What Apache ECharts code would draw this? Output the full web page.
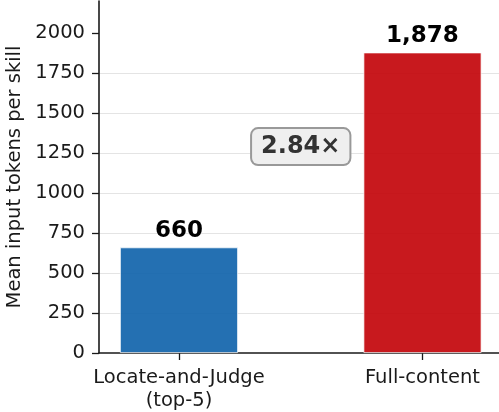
<!DOCTYPE html>
<html>
<head>
<meta charset="utf-8">
<script src="https://cdn.jsdelivr.net/npm/echarts@6/dist/echarts.min.js"></script>
<style>
  html, body { margin: 0; padding: 0; background: #fff; }
  #chart { width: 499px; height: 412px; }
</style>
</head>
<body>
<div id="chart"></div>
<script>
// data
const categories = ['Locate-and-Judge\n(top-5)', 'Full-content'];
const tokens = [660, 1878];
const barColors = ['#0c60aa', '#c20005'];
const ratioText = '2.84×';
const ratioPos = [0.5, 1290];
const yTicks = [0, 250, 500, 750, 1000, 1250, 1500, 1750, 2000];

const FONT = 'DejaVu Sans';
const INK = '#1a1a1a';
const FS = 19.5;

let chart = echarts.init(document.getElementById('chart'));

let barData = tokens.map((v, i) => ({
  value: [i, v],
  itemStyle: { color: barColors[i] }
}));

chart.setOption({
  animation: false,
  textStyle: { fontFamily: FONT },
  grid: { left: 99, right: 0, top: 1, bottom: 59, outerBoundsMode: 'none', containLabel: false },
  xAxis: {
    type: 'value',
    min: -0.3285,
    max: 1.3142,
    splitLine: { show: false },
    axisLine: { show: true, onZero: false, lineStyle: { color: INK, width: 1.6 } },
    axisTick: {
      show: true,
      customValues: [0, 1],
      length: 7,
      lineStyle: { color: INK, width: 1.3 }
    },
    axisLabel: {
      customValues: [0, 1],
      formatter: (v) => categories[Math.round(v)],
      fontSize: FS,
      lineHeight: 23,
      color: INK,
      margin: 13,
      fontFamily: FONT
    }
  },
  yAxis: {
    type: 'value',
    min: 0,
    max: 2200,
    interval: 250,
    name: 'Mean input tokens per skill',
    nameLocation: 'middle',
    nameGap: 70,
    nameTextStyle: { fontSize: FS, color: INK, fontFamily: FONT },
    axisLine: { show: true, onZero: false, lineStyle: { color: INK, width: 1.6 } },
    axisTick: {
      show: true,
      customValues: yTicks,
      length: 7,
      lineStyle: { color: INK, width: 1.3 }
    },
    axisLabel: {
      customValues: yTicks,
      formatter: (v) => String(v),
      fontSize: FS,
      color: INK,
      margin: 14,
      fontFamily: FONT
    },
    splitLine: {
      show: true,
      showMinLine: false,
      showMaxLine: false,
      lineStyle: { color: '#e4e4e4', width: 1 }
    }
  },
  series: [
    {
      type: 'bar',
      data: barData,
      barWidth: 118,
      itemStyle: { opacity: 0.9, borderColor: '#ffffff', borderWidth: 0.8 },
      label: {
        show: true,
        position: 'top',
        distance: 5,
        opacity: 1,
        fontSize: 23,
        fontWeight: 'bold',
        color: '#000',
        fontFamily: FONT,
        formatter: (p) => p.value[1].toLocaleString('en-US')
      }
    },
    {
      type: 'scatter',
      data: [ratioPos],
      symbolSize: 1,
      itemStyle: { color: 'rgba(0,0,0,0)', opacity: 1 },
      z: 5,
      label: {
        show: true,
        position: 'inside',
        opacity: 1,
        formatter: ratioText,
        fontSize: 24,
        fontWeight: 'bold',
        color: '#333',
        fontFamily: FONT,
        backgroundColor: '#efefef',
        borderColor: '#999',
        borderWidth: 2,
        borderRadius: 6,
        padding: [6, 9, 5, 9]
      }
    }
  ]
});
</script>
</body>
</html>
